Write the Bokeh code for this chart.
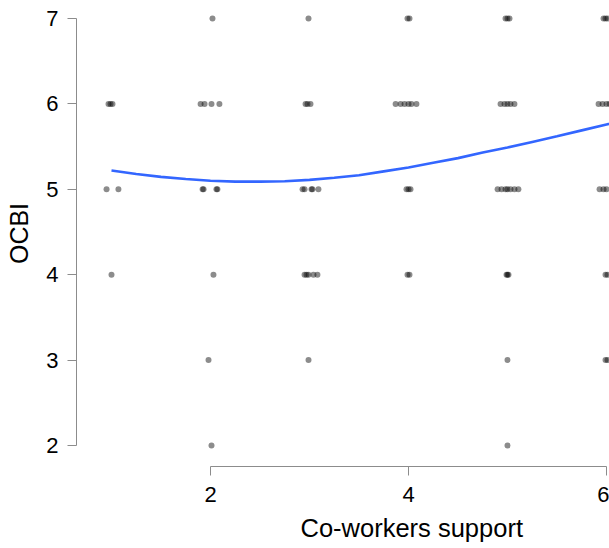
from bokeh.plotting import figure
from bokeh.models import FixedTicker, Title, ColumnDataSource
from bokeh.embed import file_html
from bokeh.resources import INLINE

# Data (jittered co-worker support scores vs OCBI)
x_row7 = [2.02, 2.99, 3.99, 4.01, 4.98, 5.00, 5.02, 5.97, 5.99, 6.01]
x_row6 = [0.97, 0.99, 1.01, 1.90, 1.94, 2.01, 2.09, 2.96, 2.98, 3.01,
          3.87, 3.92, 3.96, 4.00, 4.03, 4.08, 4.93, 4.97, 5.00, 5.03, 5.07,
          5.92, 5.96, 6.00, 6.03]
x_row5 = [0.95, 1.07, 1.92, 1.93, 2.06, 2.07, 2.93, 2.95, 3.02, 3.03, 3.09,
          3.98, 4.00, 4.02, 4.90, 4.94, 4.98, 5.00, 5.03, 5.07, 5.11,
          5.93, 5.97, 6.00]
x_row4 = [1.00, 2.03, 2.95, 2.97, 2.99, 3.04, 3.08, 3.99, 4.01,
          4.99, 5.00, 5.01, 5.99, 6.01]
x_row3 = [1.98, 2.99, 5.00, 5.99, 6.01]
x_row2 = [2.01, 5.00]

rows = [(7, x_row7), (6, x_row6), (5, x_row5), (4, x_row4), (3, x_row3), (2, x_row2)]
support = []
ocbi = []
for yv, xs in rows:
    support += xs
    ocbi += [yv] * len(xs)

# Smooth fit line
fit_x = [1.0, 1.25, 1.5, 1.75, 2.0, 2.25, 2.5, 2.75, 3.0, 3.25, 3.5, 3.75,
         4.0, 4.25, 4.5, 4.75, 5.0, 5.25, 5.5, 5.75, 6.0, 6.25]
fit_y = [5.22, 5.18, 5.145, 5.12, 5.10, 5.09, 5.09, 5.095, 5.11, 5.135, 5.165, 5.21,
         5.255, 5.31, 5.365, 5.43, 5.49, 5.555, 5.62, 5.69, 5.76, 5.83]

x_ticks = [2, 4, 6]
y_ticks = [2, 3, 4, 5, 6, 7]

p = figure(width=609, height=548, output_backend="svg", toolbar_location=None,
           x_range=(0.6465, 6.0303), y_range=(1.754, 7.2108),
           min_border_left=76, min_border_right=0, min_border_top=0,
           min_border_bottom=82)
p.outline_line_color = None
p.xgrid.visible = False
p.ygrid.visible = False
p.background_fill_color = "white"
p.border_fill_color = "white"

src = ColumnDataSource(dict(x=support, y=ocbi))
p.scatter("x", "y", source=src, size=6, fill_color="black", fill_alpha=0.45,
          line_color=None)
p.line(fit_x, fit_y, line_color="#3366FF", line_width=2.6)

for ax, ticks, bounds in ((p.xaxis[0], x_ticks, (2, 6)), (p.yaxis[0], y_ticks, (2, 7))):
    ax.ticker = FixedTicker(ticks=ticks)
    ax.bounds = bounds
    ax.axis_line_color = "#8c8c8c"
    ax.major_tick_line_color = "#8c8c8c"
    ax.major_tick_out = 9
    ax.major_tick_in = 0
    ax.minor_tick_line_color = None
    ax.major_label_text_font = "Liberation Sans"
    ax.major_label_text_font_size = "22px"
    ax.major_label_text_color = "black"

p.xaxis.major_label_standoff = 11
p.yaxis.major_label_standoff = 9
p.yaxis.axis_label = "OCBI"
p.yaxis.axis_label_text_font = "Liberation Sans"
p.yaxis.axis_label_text_font_size = "25px"
p.yaxis.axis_label_text_font_style = "normal"
p.yaxis.axis_label_text_color = "black"
p.yaxis.axis_label_standoff = 10

xlabel = Title(text="Co-workers support", align="left", offset=224,
               vertical_align="bottom",
               text_font="Liberation Sans", text_font_size="25.5px",
               text_font_style="normal", text_color="black", standoff=14)
p.add_layout(xlabel, "below")

open("out.html", "w").write(file_html(p, INLINE))
